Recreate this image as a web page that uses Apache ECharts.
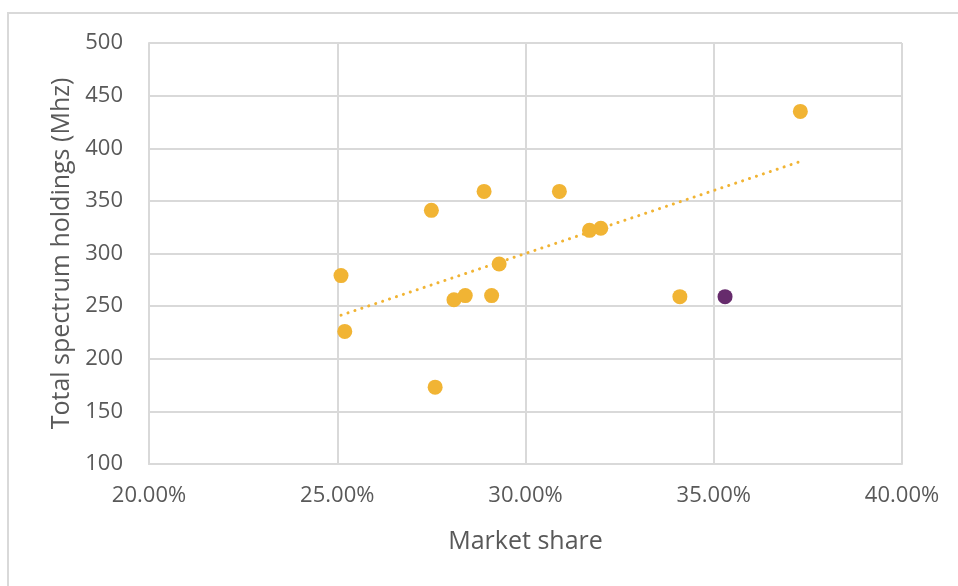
<!DOCTYPE html>
<html>
<head>
<meta charset="utf-8">
<style>
  html, body { margin: 0; padding: 0; background: #ffffff; }
  #chart { width: 958px; height: 586px; }
</style>
<script src="https://cdn.jsdelivr.net/npm/echarts@6/dist/echarts.min.js"></script>
</head>
<body>
<div id="chart"></div>
<script>
// Market share (%) and total spectrum holdings (MHz) per operator
const shareOthers    = [25.1, 25.2, 27.5, 27.6, 28.1, 28.4, 28.9, 29.1, 29.3, 30.9, 31.7, 32.0, 34.1, 37.3];
const spectrumOthers = [279, 226, 341, 173, 256, 260, 359, 260, 290, 359, 322, 324, 259, 435];
const shareHighlight    = [35.3];
const spectrumHighlight = [259];

const xTicks = { min: 20, max: 40, step: 5 };
const yTicks = { min: 100, max: 500, step: 50 };

const xTitle = 'Market share';
const yTitle = 'Total spectrum holdings (Mhz)';

const gold = '#F1B434';
const purple = '#662B6C';
const gridGray = '#D9D9D9';
const textGray = '#595959';
const font = '"Open Sans", "Noto Sans", sans-serif';

const pairs = (xs, ys) => xs.map((x, i) => [x, ys[i]]);

// Least-squares linear trend over the gold series, spanning its x range
function linearTrend(xs, ys) {
  const n = xs.length;
  const mx = xs.reduce((a, b) => a + b, 0) / n;
  const my = ys.reduce((a, b) => a + b, 0) / n;
  let sxy = 0, sxx = 0;
  for (let i = 0; i < n; i++) {
    sxy += (xs[i] - mx) * (ys[i] - my);
    sxx += (xs[i] - mx) * (xs[i] - mx);
  }
  const slope = sxy / sxx;
  const icpt = my - slope * mx;
  const x0 = Math.min(...xs), x1 = Math.max(...xs);
  return [[x0, icpt + slope * x0], [x1, icpt + slope * x1]];
}

const chart = echarts.init(document.getElementById('chart'), null, { renderer: 'canvas' });

chart.setOption({
  animation: false,
  backgroundColor: '#ffffff',
  textStyle: { fontFamily: font },
  graphic: [{
    type: 'rect',
    shape: { x: 8, y: 13, width: 980, height: 620 },
    style: { fill: 'none', stroke: gridGray, lineWidth: 2 },
    silent: true,
    z: -1
  }],
  grid: { left: 149, top: 43, right: 56, bottom: 122, containLabel: false },
  xAxis: {
    type: 'value',
    min: xTicks.min, max: xTicks.max, interval: xTicks.step,
    name: xTitle,
    nameLocation: 'middle',
    nameGap: 65,
    nameTextStyle: { color: textGray, fontSize: 25, fontFamily: font },
    axisLine: { show: true, lineStyle: { color: gridGray, width: 2 } },
    axisTick: { show: false },
    axisLabel: {
      color: textGray, fontSize: 22, fontFamily: font, margin: 21,
      formatter: v => v.toFixed(2) + '%'
    },
    splitLine: { show: true, lineStyle: { color: gridGray, width: 2 } }
  },
  yAxis: {
    type: 'value',
    min: yTicks.min, max: yTicks.max, interval: yTicks.step,
    name: yTitle,
    nameLocation: 'middle',
    nameGap: 73,
    nameTextStyle: { color: textGray, fontSize: 25, fontFamily: font },
    axisLine: { show: true, lineStyle: { color: gridGray, width: 2 } },
    axisTick: { show: false },
    axisLabel: { color: textGray, fontSize: 22, fontFamily: font, margin: 26 },
    splitLine: { show: true, lineStyle: { color: gridGray, width: 2 } }
  },
  series: [
    {
      name: 'Trend',
      type: 'line',
      data: linearTrend(shareOthers, spectrumOthers),
      symbol: 'none',
      silent: true,
      lineStyle: { color: gold, width: 3, type: [0.1, 7.2], cap: 'round' },
      z: 2
    },
    {
      name: 'Operators',
      type: 'scatter',
      data: pairs(shareOthers, spectrumOthers),
      symbolSize: 15,
      itemStyle: { color: gold, opacity: 1 },
      z: 3
    },
    {
      name: 'Highlighted operator',
      type: 'scatter',
      data: pairs(shareHighlight, spectrumHighlight),
      symbolSize: 15,
      itemStyle: { color: purple, opacity: 1 },
      z: 3
    }
  ]
});
</script>
</body>
</html>
